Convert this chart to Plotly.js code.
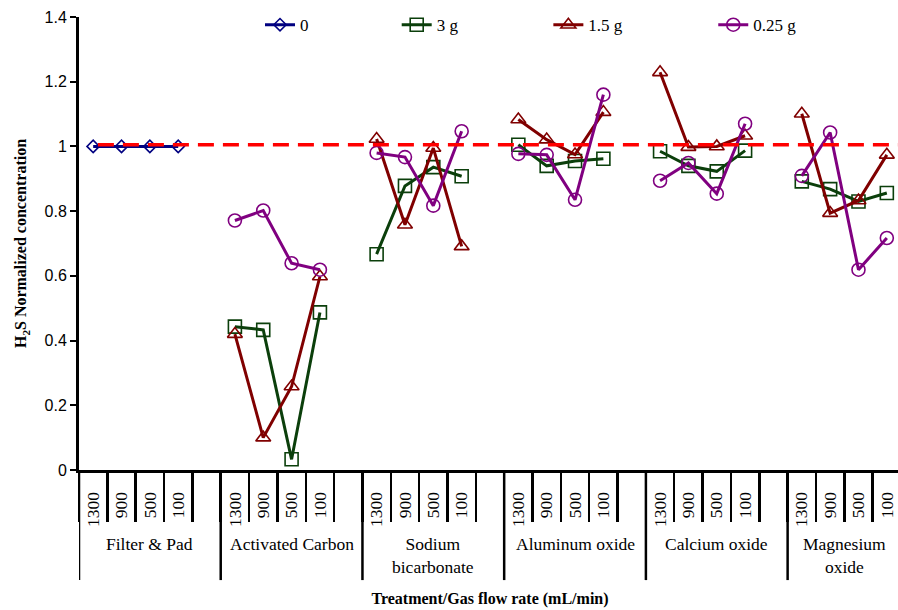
<!DOCTYPE html>
<html>
<head>
<meta charset="utf-8">
<script src="https://cdn.plot.ly/plotly-3.0.1.min.js"></script>
<style>
  html, body { margin: 0; padding: 0; overflow: hidden; background: #fff; }
  #chart { width: 903px; height: 610px; }
</style>
</head>
<body>
<div id="chart"></div>
<script>
// Treatments (outer axis level) and gas flow rates (inner axis level)
const treatments = ["Filter & Pad", "Activated Carbon", "Sodium<br>bicarbonate",
                    "Aluminum oxide", "Calcium oxide", "Magnesium<br>oxide"];
const flowRates = ["1300", "900", "500", "100"];

// Normalized H2S concentration, 4 flow rates per treatment, in treatment order
const dose0 = [1.000, 1.000, 1.000, 1.000,
               null, null, null, null,
               null, null, null, null,
               null, null, null, null,
               null, null, null, null,
               null, null, null, null];
const dose3g = [null, null, null, null,
                0.443, 0.433, 0.033, 0.487,
                0.667, 0.878, 0.936, 0.908,
                1.005, 0.940, 0.955, 0.962,
                0.985, 0.940, 0.923, 0.987,
                0.892, 0.868, 0.830, 0.856];
const dose15g = [null, null, null, null,
                 0.420, 0.100, 0.258, 0.598,
                 1.023, 0.758, 0.995, 0.691,
                 1.083, 1.021, 0.975, 1.106,
                 1.229, 0.998, 1.000, 1.033,
                 1.101, 0.794, 0.833, 0.974];
const dose025g = [null, null, null, null,
                  0.771, 0.802, 0.639, 0.619,
                  0.980, 0.967, 0.817, 1.047,
                  0.977, 0.974, 0.835, 1.160,
                  0.894, 0.949, 0.854, 1.070,
                  0.909, 1.043, 0.619, 0.717];
const seriesNames = ["0", "3 g", "1.5 g", "0.25 g"];

// Untreated reference level
const referenceLevel = 1.005;

// Slot layout along x: four flow-rate slots per treatment, and an empty
// spacer slot after every treatment except the last one.
const slotPos = [];        // x slot of each value
const rateLabels = [];     // tick text for each value slot
const groupStart = [];     // first slot of each treatment
const groupEnd = [];       // slot boundary that closes each treatment
let slot = 0;
treatments.forEach((t, ti) => {
  groupStart.push(slot);
  flowRates.forEach(r => { slotPos.push(slot); rateLabels.push(r); slot += 1; });
  if (ti < treatments.length - 1) slot += 1;
  groupEnd.push(slot);
});
const nSlots = slot;
const allSlots = [];
for (let s = 0; s < nSlots; s++) allSlots.push(s);
const boundaries = [];
for (let b = 0; b <= nSlots; b++) boundaries.push(b - 0.5);

// Place values on their slots; spacer slots stay empty so lines break there
function spread(values) {
  const out = new Array(nSlots).fill(null);
  values.forEach((v, i) => { out[slotPos[i]] = v; });
  return out;
}

const serif = "Liberation Serif, Times New Roman, serif";
const sans = "Liberation Sans, Arial, sans-serif";
const axisFontSize = 17.5;

const styles = [
  { color: "#000080", symbol: "diamond-open", size: 9.5 },
  { color: "#0B3F0B", symbol: "square-open", size: 13 },
  { color: "#800000", symbol: "triangle-up-open", size: 13 },
  { color: "#800080", symbol: "circle-open", size: 13 }
];
const legendIds = ["legend", "legend2", "legend3", "legend4"];
const legendX = [0.2202, 0.3865, 0.5710, 0.7716];

const traces = [dose0, dose3g, dose15g, dose025g].map((vals, k) => ({
  type: "scatter",
  mode: "lines+markers",
  name: seriesNames[k],
  legend: legendIds[k],
  x: allSlots,
  y: spread(vals),
  connectgaps: false,
  line: { color: styles[k].color, width: 3 },
  marker: { symbol: styles[k].symbol, size: styles[k].size, color: styles[k].color,
            line: { color: styles[k].color, width: 1.6 } }
}));

const legendBase = {
  orientation: "h", xref: "paper", yref: "paper", y: 0.982, yanchor: "middle",
  xanchor: "left", bgcolor: "rgba(0,0,0,0)", borderwidth: 0,
  font: { family: serif, size: 17, color: "#000" }
};

// Group dividers run from the axis line down past the treatment names
const dividerDepth = -0.243;
const shapes = [{
  type: "line", xref: "paper", yref: "y",
  x0: 0.023, x1: 1, y0: referenceLevel, y1: referenceLevel,
  line: { color: "#FF0000", width: 3.5, dash: "16px,9px" }
}];
const dividerAt = [groupStart[0] - 0.5].concat(groupEnd.map(e => e - 0.5));
dividerAt.forEach(xb => shapes.push({
  type: "line", xref: "x", yref: "paper", x0: xb, x1: xb, y0: 0, y1: dividerDepth,
  line: { color: "#000", width: 2.5 }
}));

// Treatment names centred under their slots (spacer included)
const annotations = treatments.map((t, ti) => ({
  xref: "x", yref: "paper",
  x: (groupStart[ti] + groupEnd[ti] - 1) / 2, y: -0.137,
  xanchor: "center", yanchor: "top", showarrow: false,
  text: t, align: "center",
  font: { family: serif, size: axisFontSize, color: "#000" }
}));

const layout = {
  width: 903, height: 610,
  margin: { l: 79, r: 2, t: 17, b: 140 },
  paper_bgcolor: "#fff", plot_bgcolor: "#fff",
  showlegend: true,
  xaxis: {
    type: "linear",
    range: [-0.5, nSlots - 0.5],
    tickmode: "array", tickvals: slotPos, ticktext: rateLabels,
    ticks: "", tickangle: -90, ticklabelstandoff: 12,
    tickfont: { family: serif, size: axisFontSize, color: "#000" },
    minor: { tickmode: "array", tickvals: boundaries, ticks: "outside",
             ticklen: 49, tickwidth: 2.5, tickcolor: "#000", showgrid: false },
    showline: true, linewidth: 3, linecolor: "#000",
    showgrid: false, zeroline: false, automargin: false,
    title: { text: "<b>Treatment/Gas flow rate (mL/min)</b>", standoff: 67,
             font: { family: serif, size: 16, color: "#000" } }
  },
  yaxis: {
    range: [0, 1.4], dtick: 0.2, tick0: 0,
    ticks: "outside", ticklen: 6, tickwidth: 2, tickcolor: "#000",
    showline: true, linewidth: 3, linecolor: "#000",
    showgrid: false, zeroline: false, automargin: false,
    tickfont: { family: sans, size: 16, color: "#000" },
    title: { text: "<b>H<sub>2</sub>S Normalized concentration</b>", standoff: 14,
             font: { family: serif, size: 16, color: "#000" } }
  },
  shapes: shapes,
  annotations: annotations
};
legendIds.forEach((id, k) => { layout[id] = Object.assign({}, legendBase, { x: legendX[k] }); });

Plotly.newPlot("chart", traces, layout, { displayModeBar: false, staticPlot: true });
</script>
</body>
</html>
